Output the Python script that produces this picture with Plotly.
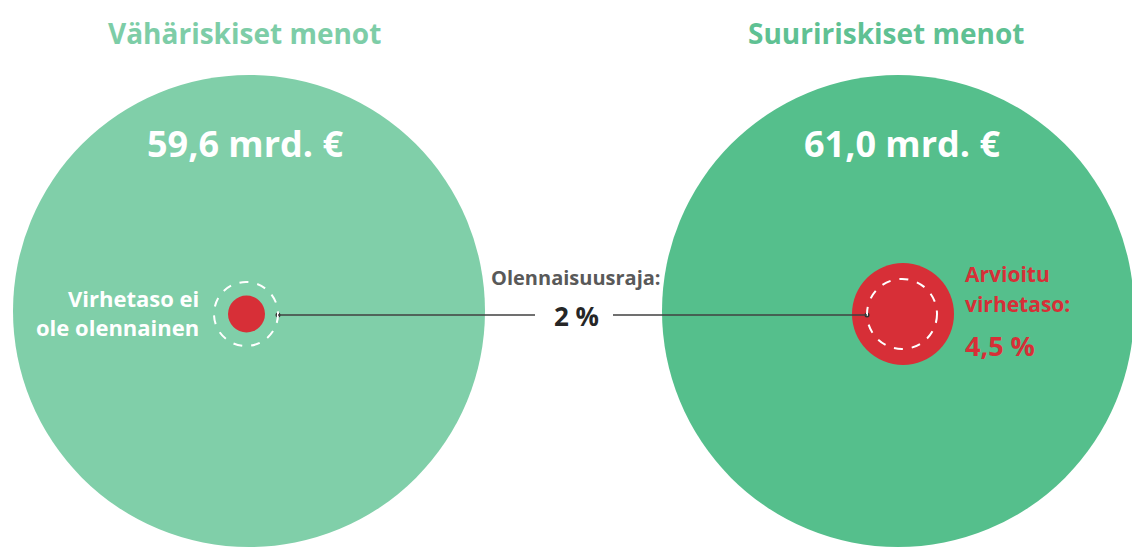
import plotly.graph_objects as go

# ---- data ----
categories = ["Vähäriskiset menot", "Suuririskiset menot"]
amounts_bn = [59.6, 61.0]
amount_labels = ["59,6 mrd. €", "61,0 mrd. €"]
materiality_threshold_pct = 2
estimated_error_pct = [None, 4.5]
left_note = ["Virhetaso ei", "ole olennainen"]
right_note = ["Arvioitu", "virhetaso:"]

# ---- layout / style (axis units = screen pixels) ----
W, H = 1132, 547
cx = [249, 898]
cy = 311
R_big = 236
err_cx = [246.5, 903]
thr_cx = [246, 902]
R_err = [18.5, 51]
R_thr = [32, 35]
ey = 314
big_colors = ["#80cfa9", "#55bf8c"]
title_colors = ["#7dcda7", "#5fc193"]
RED = "#d72f37"
FONT = "Open Sans"

fig = go.Figure()
shapes = []
for i in range(2):
    shapes.append(dict(type="circle", xref="x", yref="y",
                       x0=cx[i]-R_big, x1=cx[i]+R_big, y0=cy-R_big, y1=cy+R_big,
                       fillcolor=big_colors[i], line=dict(width=0), layer="below"))
    shapes.append(dict(type="circle", xref="x", yref="y",
                       x0=err_cx[i]-R_err[i], x1=err_cx[i]+R_err[i], y0=ey-R_err[i], y1=ey+R_err[i],
                       fillcolor=RED, line=dict(width=0), layer="below"))
    shapes.append(dict(type="circle", xref="x", yref="y",
                       x0=thr_cx[i]-R_thr[i], x1=thr_cx[i]+R_thr[i],
                       y0=ey-R_thr[i], y1=ey+R_thr[i],
                       fillcolor="rgba(0,0,0,0)", line=dict(width=2, color="white", dash="dash")))

# connector line with gap for label
line_left_end = thr_cx[0] + R_thr[0]
line_right_end = thr_cx[1] - R_thr[1]
shapes.append(dict(type="line", xref="x", yref="y", x0=line_left_end, x1=535, y0=315, y1=315,
                   line=dict(color="#404040", width=1.3)))
shapes.append(dict(type="line", xref="x", yref="y", x0=613, x1=line_right_end, y0=315, y1=315,
                   line=dict(color="#404040", width=1.3)))

fig.add_trace(go.Scatter(x=[line_left_end, line_right_end], y=[315, 315], mode="markers",
                         marker=dict(size=5, color="#333333"), hoverinfo="skip", showlegend=False))

ann = []
title_x = [244, 886]
amount_x = [245, 902]
for i in range(2):
    ann.append(dict(x=title_x[i], y=33, text=f"<b>{categories[i]}</b>",
                    font=dict(family=FONT, size=28, color=title_colors[i])))
    ann.append(dict(x=amount_x[i], y=143, text=f"<b>{amount_labels[i]}</b>",
                    font=dict(family=FONT, size=36, color="white")))

for txt, yy in zip(left_note, [298, 327]):
    ann.append(dict(x=201, y=yy, text=f"<b>{txt}</b>", xanchor="right",
                    font=dict(family=FONT, size=22, color="white")))
ann.append(dict(x=576, y=277, text="<b>Olennaisuusraja:</b>",
                font=dict(family=FONT, size=20, color="#595959")))
ann.append(dict(x=576, y=316, text=f"<b>{materiality_threshold_pct} %</b>",
                font=dict(family=FONT, size=26, color="#262626")))
for txt, yy in zip(right_note, [273.5, 303.5]):
    ann.append(dict(x=963, y=yy, text=f"<b>{txt}</b>", xanchor="left",
                    font=dict(family=FONT, size=21, color=RED)))
ann.append(dict(x=963, y=345.5, text=f"<b>{estimated_error_pct[1]:.1f} %</b>".replace(".", ","),
                xanchor="left", font=dict(family=FONT, size=27, color=RED)))
for a in ann:
    a.setdefault("xref", "x")
    a.setdefault("yref", "y")
    a.setdefault("showarrow", False)
    a.setdefault("yanchor", "middle")
    a.setdefault("xanchor", "center")

fig.update_layout(
    width=W, height=H, margin=dict(l=0, r=0, t=0, b=0),
    paper_bgcolor="white", plot_bgcolor="white",
    xaxis=dict(range=[0, W], visible=False, fixedrange=True),
    yaxis=dict(range=[H, 0], visible=False, fixedrange=True),
    shapes=shapes, annotations=ann, showlegend=False,
)
fig.write_html("out.html", config={"displayModeBar": False},
               post_script="document.body.style.margin='0';document.body.style.overflow='hidden';")
